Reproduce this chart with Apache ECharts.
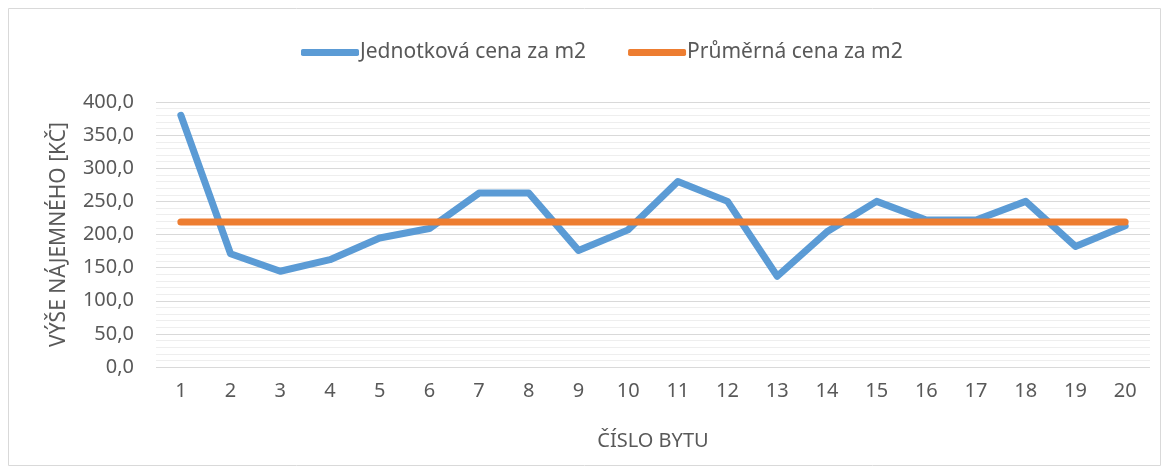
<!DOCTYPE html>
<html>
<head>
<meta charset="utf-8">
<script src="https://cdn.jsdelivr.net/npm/echarts@6/dist/echarts.min.js"></script>
<style>
  html, body { margin: 0; padding: 0; background: #fff; }
  #chart { width: 1169px; height: 474px; }
</style>
</head>
<body>
<div id="chart"></div>
<script>
// data
var cisloBytu = ["1","2","3","4","5","6","7","8","9","10","11","12","13","14","15","16","17","18","19","20"];
var jednotkovaCena = [380, 171, 144.5, 162, 194.7, 209, 262.6, 262.6, 176, 207, 280, 250, 137, 204, 250, 222, 222, 250, 182, 213];
var prumernaCena = [219, 219, 219, 219, 219, 219, 219, 219, 219, 219, 219, 219, 219, 219, 219, 219, 219, 219, 219, 219];
var nazvy = ["Jednotková cena za m2", "Průměrná cena za m2"];

var font = "Noto Sans";
var textColor = "#595959";

var chart = echarts.init(document.getElementById("chart"));
chart.setOption({
  animation: false,
  textStyle: { fontFamily: font, color: textColor },
  graphic: [{
    type: "rect",
    shape: { x: 8.5, y: 8.5, width: 1152, height: 457 },
    style: { fill: "none", stroke: "#d9d9d9", lineWidth: 1 },
    silent: true
  }],
  legend: {
    top: 37,
    left: 296,
    itemWidth: 58,
    itemHeight: 7,
    itemGap: 42,
    icon: "roundRect",
    textStyle: { fontFamily: font, fontSize: 21, color: textColor, padding: [0, 0, 0, -4] },
    data: nazvy
  },
  grid: { left: 156, right: 19, top: 102, bottom: 107 },
  xAxis: {
    type: "category",
    data: cisloBytu,
    boundaryGap: true,
    name: "ČÍSLO BYTU",
    nameLocation: "middle",
    nameGap: 64,
    nameTextStyle: { fontFamily: font, fontSize: 20, color: textColor },
    axisLine: { show: false },
    axisTick: { show: false },
    axisLabel: { fontFamily: font, fontSize: 20, color: textColor, margin: 14 }
  },
  yAxis: {
    type: "value",
    min: 0,
    max: 400,
    interval: 50,
    name: "VÝŠE NÁJEMNÉHO [KČ]",
    nameLocation: "middle",
    nameGap: 86,
    nameRotate: 90,
    nameTextStyle: { fontFamily: font, fontSize: 21, color: textColor },
    axisLine: { show: false },
    axisTick: { show: false },
    axisLabel: {
      fontFamily: font, fontSize: 20, color: textColor, margin: 22,
      formatter: function (v) { return v.toFixed(1).replace(".", ","); }
    },
    splitLine: { lineStyle: { color: "#d9d9d9", width: 1 } },
    minorTick: { show: false, splitNumber: 5 },
    minorSplitLine: { show: true, lineStyle: { color: "#eeeeee", width: 1 } }
  },
  series: [
    {
      name: nazvy[0],
      type: "line",
      data: jednotkovaCena,
      symbol: "none",
      color: "#5b9bd5",
      lineStyle: { width: 7, color: "#5b9bd5", cap: "round", join: "round" }
    },
    {
      name: nazvy[1],
      type: "line",
      data: prumernaCena,
      symbol: "none",
      color: "#ed7d31",
      lineStyle: { width: 7, color: "#ed7d31", cap: "round", join: "round" }
    }
  ]
});
</script>
</body>
</html>
